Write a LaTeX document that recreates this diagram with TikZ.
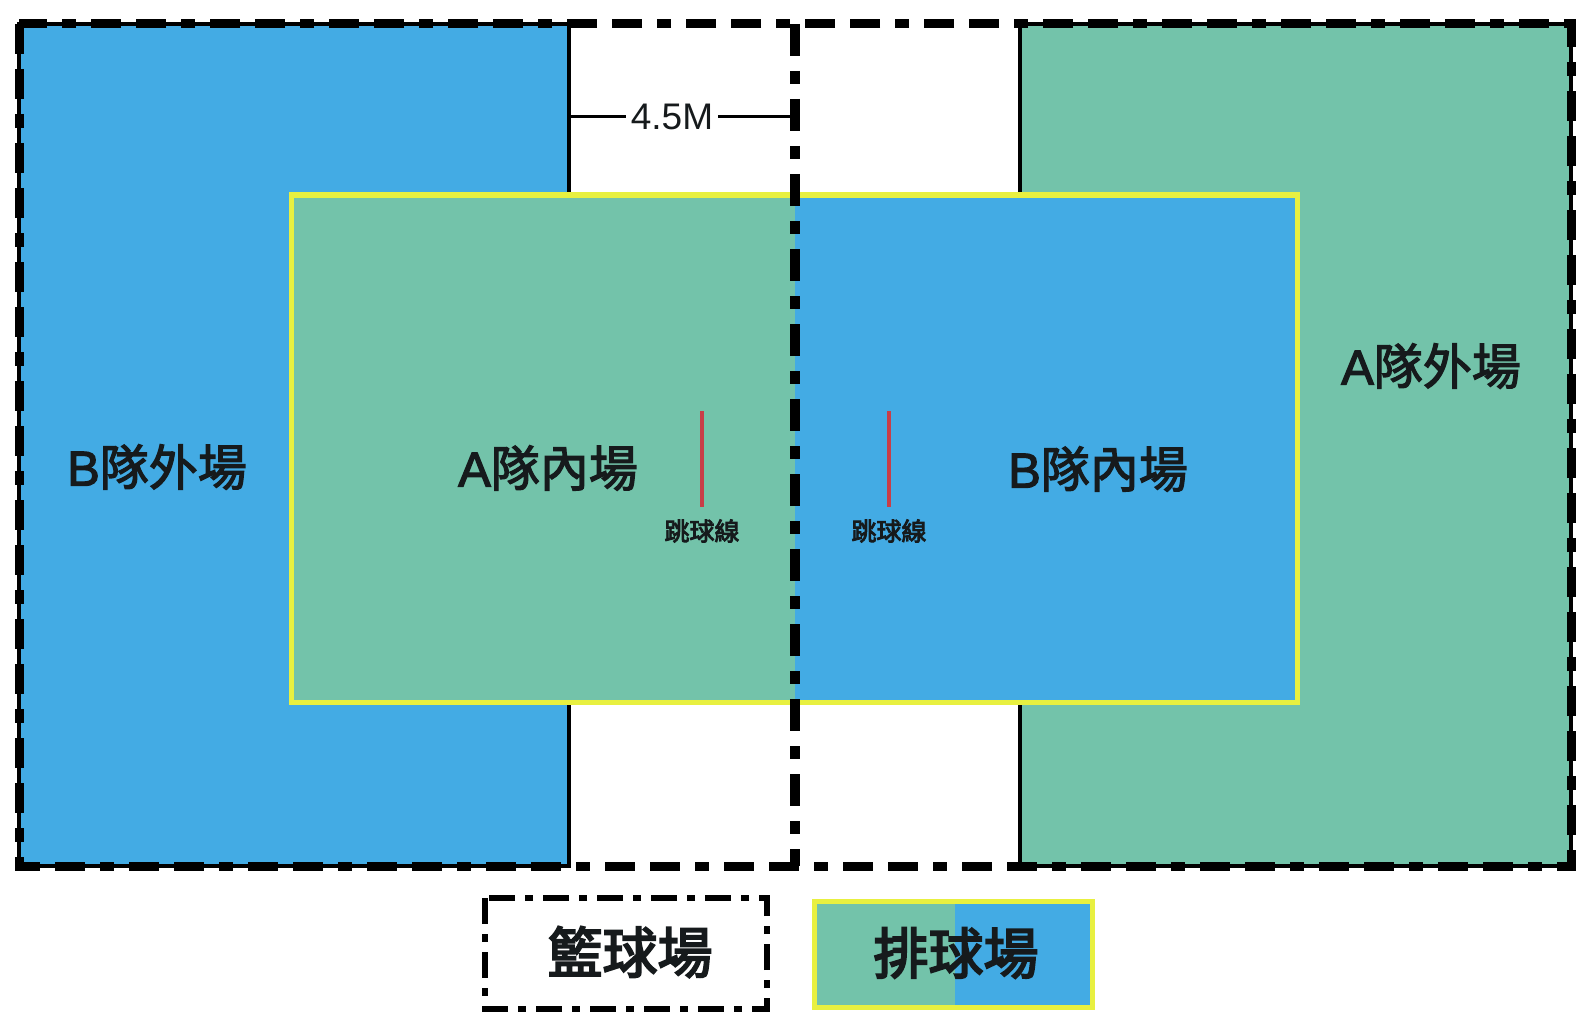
\documentclass[tikz,border=0pt]{standalone}
\usepackage{fontspec}
\setmainfont{Noto Sans CJK TC}[FakeBold=2.5]
\newfontfamily\heavy{Noto Sans CJK TC}[FakeBold=3.5]
\newfontfamily\latin{Liberation Sans}[FakeBold=2.5]
\newfontfamily\dimfont{Liberation Sans}
\definecolor{cblue}{RGB}{67,171,228}
\definecolor{cgreen}{RGB}{115,195,170}
\definecolor{cyel}{RGB}{232,240,64}
\definecolor{cred}{RGB}{200,62,72}
\definecolor{ctext}{RGB}{22,26,28}
\begin{document}
\begin{tikzpicture}[x=1pt,y=-1pt,
  region/.style={draw=black,line width=4pt},
  court/.style={draw=black,line width=9pt,dash pattern=on 30pt off 15pt on 30pt off 15pt on 14pt off 15pt},
  legcourt/.style={draw=black,line width=6pt,dash pattern=on 26pt off 10pt on 8pt off 10pt},
  midline/.style={draw=black,line width=10pt,dash pattern=on 32pt off 15pt on 13pt off 15pt},
  vball/.style={draw=cyel,line width=5pt},
  biglabel/.style={inner sep=0pt,text=ctext,font=\fontsize{49}{49}\selectfont},
  leglabel/.style={inner sep=0pt,text=ctext,font=\heavy\fontsize{55}{55}\selectfont},
  smalllabel/.style={inner sep=0pt,text=ctext,font=\heavy\fontsize{25}{25}\selectfont},
  dimlabel/.style={inner sep=0pt,inner xsep=5pt,text=ctext,font=\dimfont\fontsize{37}{37}\selectfont},
  jumpline/.style={draw=cred,line width=4pt},
  dimline/.style={draw=black,line width=3pt}
]
\useasboundingbox (0,0) rectangle (1583,1014);
\fill[white] (0,0) rectangle (1583,1014);
% outfields
\filldraw[region,fill=cblue] (19,24) rectangle (569,866);
\filldraw[region,fill=cgreen] (1020,24) rectangle (1571,866);
% volleyball court
\fill[cgreen] (291,195) rectangle (795,702);
\fill[cblue] (795,195) rectangle (1297,702);
\draw[vball] (291,195) rectangle (1297,702);
% basketball court
\draw[court] (19,24) rectangle (1571,866);
\coordinate (midT) at (795,24);
\coordinate (midB) at (795,866);
\draw[midline] (midT) -- (midB);
% dimension
\coordinate (dimL) at (569,117);
\coordinate (dimR) at (792,117);
\node[dimlabel] (dimtxt) at (672,117) {4.5M};
\draw[dimline] (dimL) -- (dimtxt.west);
\draw[dimline] (dimtxt.east) -- (dimR);
% jump lines
\coordinate (j1t) at (702,411);
\coordinate (j1b) at (702,507);
\coordinate (j2t) at (889,411);
\coordinate (j2b) at (889,507);
\draw[jumpline] (j1t) -- (j1b);
\draw[jumpline] (j2t) -- (j2b);
\node[smalllabel] (jl1) at (702,531) {跳球線};
\node[smalllabel] (jl2) at (889,531) {跳球線};
% labels
\node[biglabel] (bout) at (157,467) {{\latin B}隊外場};
\node[biglabel] (ain) at (548,468) {{\latin A}隊內場};
\node[biglabel] (bin) at (1098,469) {{\latin B}隊內場};
\node[biglabel] (aout) at (1431,366) {{\latin A}隊外場};
% legend
\draw[legcourt] (485,898) rectangle (767,1009);
\node[leglabel] (bleg) at (630,952) {籃球場};
\fill[cgreen] (814,901) rectangle (955,1007);
\fill[cblue] (955,901) rectangle (1092,1007);
\draw[vball] (814,901) rectangle (1092,1007);
\node[leglabel] (vleg) at (956,953) {排球場};
\end{tikzpicture}
\end{document}
